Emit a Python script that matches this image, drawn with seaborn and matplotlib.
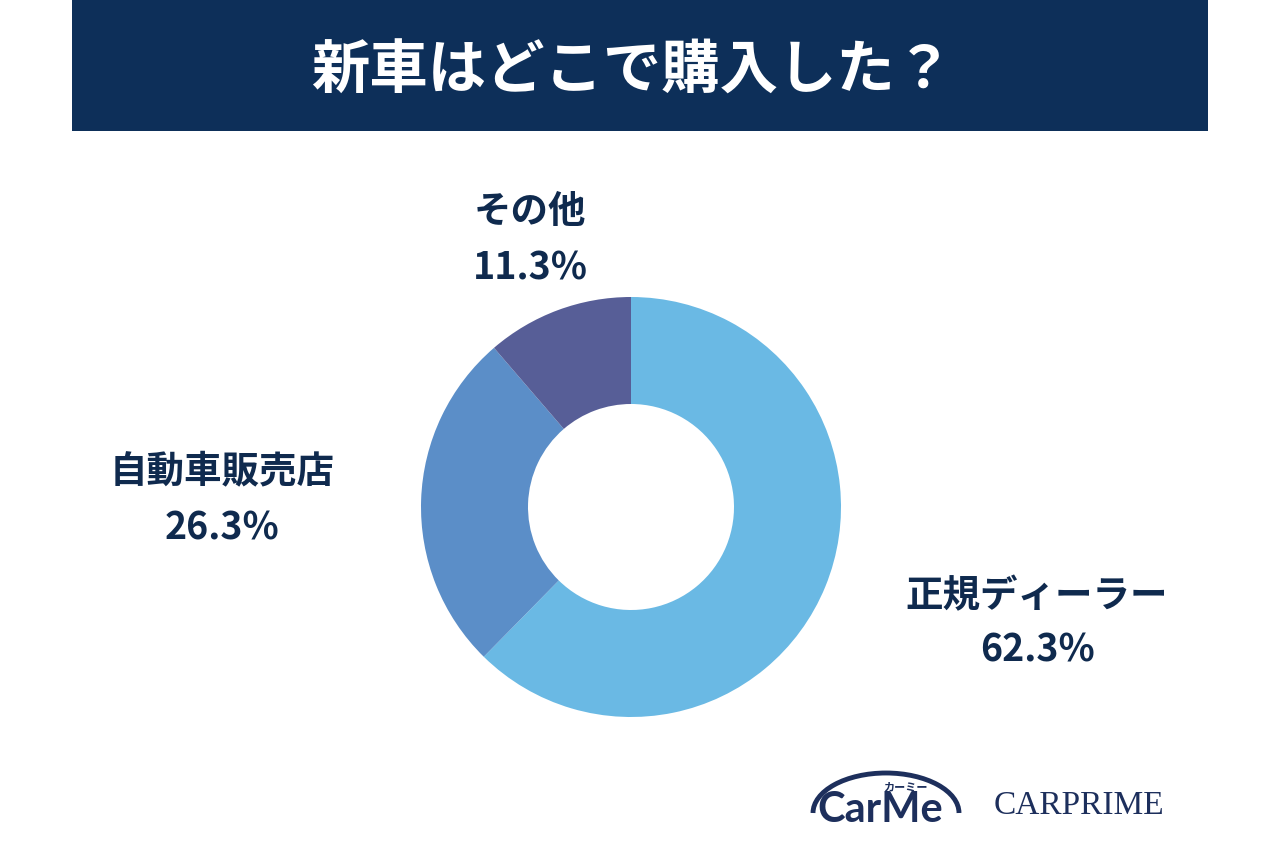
import matplotlib
matplotlib.use("Agg")
import matplotlib.pyplot as plt
import seaborn as sns
from matplotlib.patches import Rectangle, Arc

sns.set_theme(style="white")
plt.rcParams['font.family'] = ['Noto Sans CJK JP', 'DejaVu Sans']

title = "新車はどこで購入した？"
categories = ["正規ディーラー", "自動車販売店", "その他"]
values = [62.3, 26.3, 11.3]
colors = ["#6ab9e4", "#5b8ec8", "#575e97"]
navy = "#0d2f59"
text_col = "#0f2a4e"

W, H = 1280, 853
fig = plt.figure(figsize=(12.8, 8.53), dpi=100)
fig.patch.set_facecolor("white")

def fx(x):
    return x / W

def fy(y):
    return 1 - y / H

# title bar
fig.patches.append(Rectangle((fx(72), fy(132)), fx(1208) - fx(72), fy(0) - fy(132),
                             transform=fig.transFigure, facecolor=navy, edgecolor="none", zorder=0))
fig.text(fx(632), fy(72), title, color="white", fontsize=42, fontweight="bold",
         ha="center", va="center")

# donut
cx, cy, r = 631, 508, 210
ax = fig.add_axes([fx(cx - r), fy(cy + r), (2 * r) / W, (2 * r) / H])
ax.pie(values, colors=colors, startangle=90, counterclock=False, radius=1,
       wedgeprops=dict(width=1 - 103 / 210, edgecolor="none"))
ax.set_xlim(-1, 1)
ax.set_ylim(-1, 1)
ax.set_aspect("equal")
ax.axis("off")

# labels
label_pos = [(1037, 596, 650), (222, 471, 528), (530, 211, 268)]
for cat, val, (x, y1, y2) in zip(categories, values, label_pos):
    fig.text(fx(x), fy(y1), cat, color=text_col, fontsize=27, fontweight="bold",
             ha="center", va="center")
    fig.text(fx(x), fy(y2), f"{val:.1f}%", color=text_col, fontsize=27, fontweight="bold",
             ha="center", va="center")

# logos
lax = fig.add_axes([0, 0, 1, 1], facecolor="none")
lax.set_xlim(0, W)
lax.set_ylim(H, 0)
lax.axis("off")
lax.add_patch(Arc((886, 814), 146, 80, theta1=180, theta2=360, color="#1d2f5c", lw=3.5))
lax.text(880, 810, "CarMe", color="#1d2f5c", fontsize=30, fontweight="bold",
         family=["Lato", "DejaVu Sans"], ha="center", va="center")
lax.text(905, 787, "カーミー", color="#1d2f5c", fontsize=8, fontweight="bold",
         ha="center", va="center")
lax.text(1079, 806, "CARPRIME", color="#1d2f5c", fontsize=24,
         family=["Liberation Serif", "DejaVu Serif"], ha="center", va="center")

fig.savefig("out.png", dpi=100, facecolor="white")
